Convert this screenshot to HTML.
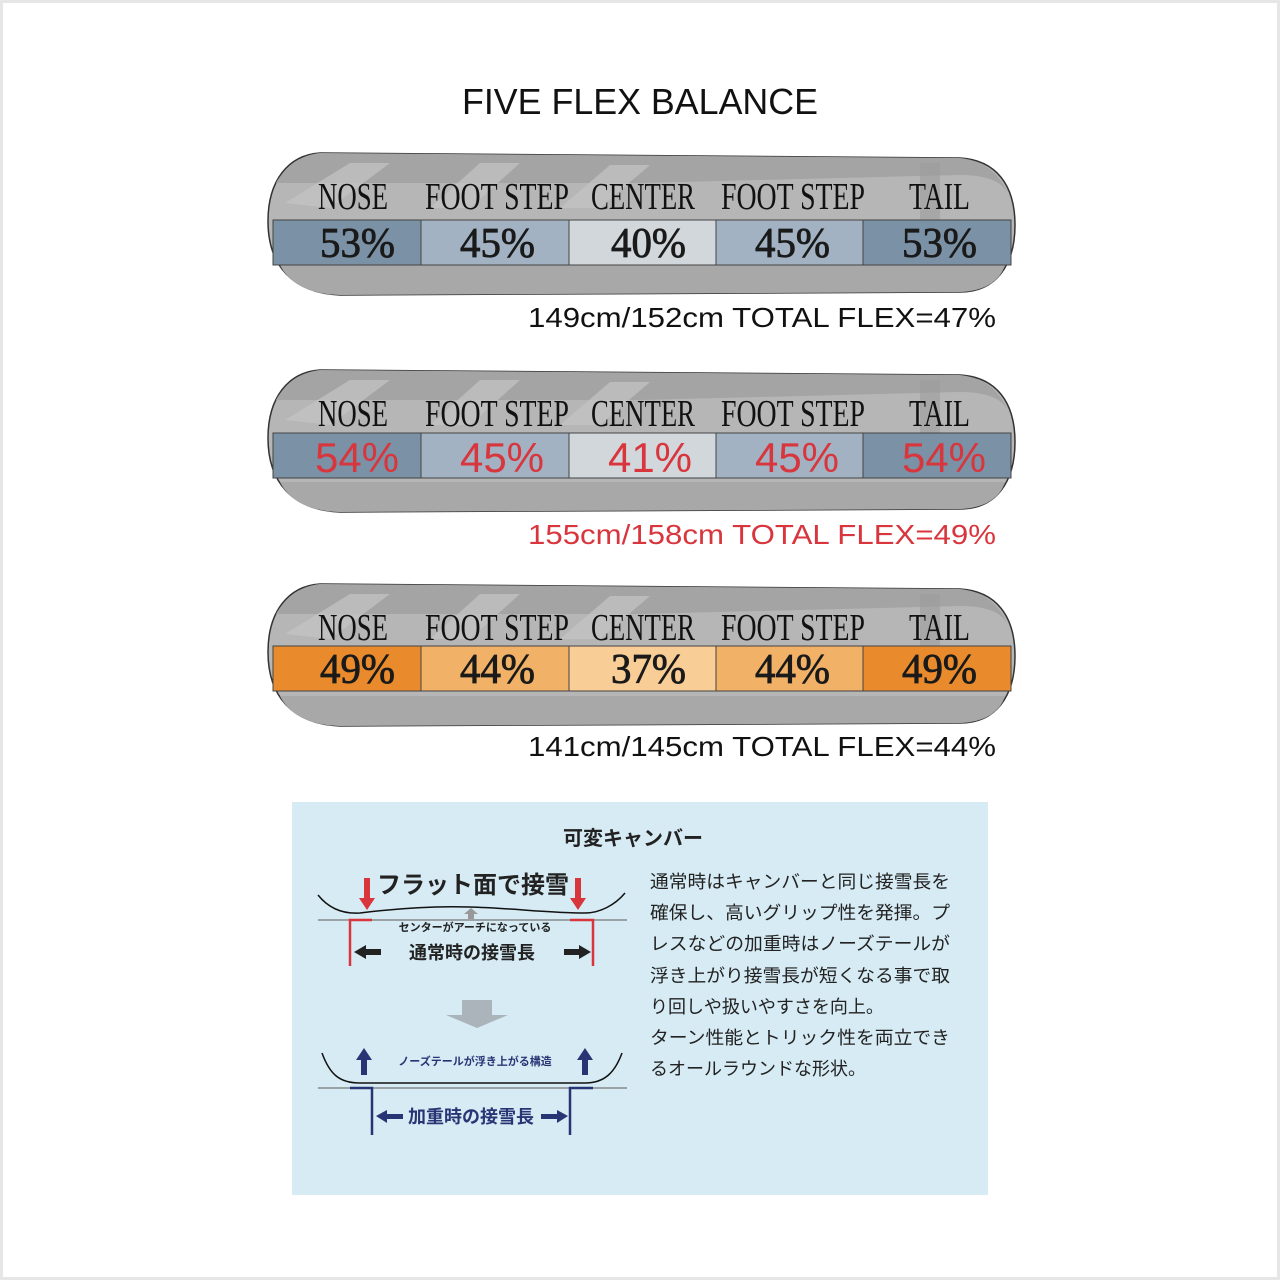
<!DOCTYPE html>
<html><head><meta charset="utf-8"><style>
html,body{margin:0;padding:0;background:#fff}
svg{display:block}
</style></head><body>
<svg width="1280" height="1280" viewBox="0 0 1280 1280" xmlns="http://www.w3.org/2000/svg">
<rect x="1.5" y="1.5" width="1277" height="1277" fill="#fff" stroke="#e6e6e6" stroke-width="3"/>
<text x="640" y="114" text-anchor="middle" font-family="Liberation Sans, sans-serif" font-size="36" fill="#111" textLength="356" lengthAdjust="spacingAndGlyphs">FIVE FLEX BALANCE</text>
<defs>
<g id="board">
<path d="M320 0 C288 2 268 28 268 68 C268 112 292 140 340 142 L960 139 C996 139 1015 112 1015 72 C1015 32 996 7 960 5 Z" fill="#b6b6b6" stroke="#333" stroke-width="1.5"/>
<path d="M320 0 C300 2 285 14 276 30 L640 30 L960 22 C990 22 1005 30 1010 45 C1000 20 985 8 960 5 Z" fill="#a4a4a4"/>
<path d="M285 50 L350 10 L390 10 L330 55 Z M430 55 L480 10 L520 10 L470 55 Z M560 55 L610 12 L650 12 L600 55 Z" fill="#c4c4c4" opacity="0.7"/>
<rect x="920" y="10" width="20" height="60" fill="#9c9c9c" opacity="0.6"/>
<path d="M280 112 L1005 112 C1000 128 985 138 960 139 L340 142 C305 141 288 128 280 112 Z" fill="#a8a8a8"/>
<g font-family="Liberation Serif, serif" font-size="38" fill="#111">
<text x="318" y="56" textLength="70" lengthAdjust="spacingAndGlyphs">NOSE</text>
<text x="425" y="56" textLength="144" lengthAdjust="spacingAndGlyphs">FOOT STEP</text>
<text x="591" y="56" textLength="104" lengthAdjust="spacingAndGlyphs">CENTER</text>
<text x="721" y="56" textLength="144" lengthAdjust="spacingAndGlyphs">FOOT STEP</text>
<text x="909" y="56" textLength="61" lengthAdjust="spacingAndGlyphs">TAIL</text>
</g>
</g>
</defs>

<!-- board 1 -->
<use href="#board" transform="translate(0,153)"/>
<g stroke="#444" stroke-width="1">
<rect x="273" y="220" width="148" height="45" fill="#7b91a5"/>
<rect x="421" y="220" width="148" height="45" fill="#a2b2c2"/>
<rect x="569" y="220" width="147" height="45" fill="#d2d7dc"/>
<rect x="716" y="220" width="147" height="45" fill="#a2b2c2"/>
<rect x="863" y="220" width="148" height="45" fill="#7b91a5"/>
</g>
<g font-family="Liberation Serif, serif" font-size="42" fill="#1a1a1a" stroke="#1a1a1a" stroke-width="0.8">
<text x="320" y="257" textLength="75" lengthAdjust="spacingAndGlyphs">53%</text><text x="460" y="257" textLength="75" lengthAdjust="spacingAndGlyphs">45%</text><text x="611" y="257" textLength="75" lengthAdjust="spacingAndGlyphs">40%</text><text x="755" y="257" textLength="75" lengthAdjust="spacingAndGlyphs">45%</text><text x="902" y="257" textLength="75" lengthAdjust="spacingAndGlyphs">53%</text>
</g>
<text x="996" y="327" text-anchor="end" font-family="Liberation Sans, sans-serif" font-size="28" fill="#111" textLength="468" lengthAdjust="spacingAndGlyphs">149cm/152cm TOTAL FLEX=47%</text>

<!-- board 2 -->
<use href="#board" transform="translate(0,370)"/>
<g stroke="#444" stroke-width="1">
<rect x="273" y="433" width="148" height="45" fill="#7b91a5"/>
<rect x="421" y="433" width="148" height="45" fill="#a2b2c2"/>
<rect x="569" y="433" width="147" height="45" fill="#d2d7dc"/>
<rect x="716" y="433" width="147" height="45" fill="#a2b2c2"/>
<rect x="863" y="433" width="148" height="45" fill="#7b91a5"/>
</g>
<g font-family="Liberation Sans, sans-serif" font-size="42" fill="#d8353d" text-anchor="middle">
<text x="357" y="472">54%</text><text x="502" y="472">45%</text><text x="650" y="472">41%</text><text x="797" y="472">45%</text><text x="944" y="472">54%</text>
</g>
<text x="996" y="544" text-anchor="end" font-family="Liberation Sans, sans-serif" font-size="28" fill="#d8353d" textLength="468" lengthAdjust="spacingAndGlyphs">155cm/158cm TOTAL FLEX=49%</text>

<!-- board 3 -->
<use href="#board" transform="translate(0,584)"/>
<g stroke="#444" stroke-width="1">
<rect x="273" y="646" width="148" height="45" fill="#e98b2d"/>
<rect x="421" y="646" width="148" height="45" fill="#f1b167"/>
<rect x="569" y="646" width="147" height="45" fill="#f8cd96"/>
<rect x="716" y="646" width="147" height="45" fill="#f1b167"/>
<rect x="863" y="646" width="148" height="45" fill="#e98b2d"/>
</g>
<g font-family="Liberation Serif, serif" font-size="42" fill="#1a1a1a" stroke="#1a1a1a" stroke-width="0.8">
<text x="320" y="683" textLength="75" lengthAdjust="spacingAndGlyphs">49%</text><text x="460" y="683" textLength="75" lengthAdjust="spacingAndGlyphs">44%</text><text x="611" y="683" textLength="75" lengthAdjust="spacingAndGlyphs">37%</text><text x="755" y="683" textLength="75" lengthAdjust="spacingAndGlyphs">44%</text><text x="902" y="683" textLength="75" lengthAdjust="spacingAndGlyphs">49%</text>
</g>
<text x="996" y="756" text-anchor="end" font-family="Liberation Sans, sans-serif" font-size="28" fill="#111" textLength="468" lengthAdjust="spacingAndGlyphs">141cm/145cm TOTAL FLEX=44%</text>

<!-- camber box -->
<rect x="292" y="802" width="696" height="393" fill="#d6ebf4"/>
<g font-family="Liberation Sans, 'Noto Sans CJK JP', sans-serif">
<text x="633" y="845" text-anchor="middle" font-size="20" font-weight="bold" fill="#222">可変キャンバー</text>
<g font-size="18" fill="#222">
<text x="650" y="888" textLength="300" lengthAdjust="spacingAndGlyphs">通常時はキャンバーと同じ接雪長を</text>
<text x="650" y="919" textLength="300" lengthAdjust="spacingAndGlyphs">確保し、高いグリップ性を発揮。プ</text>
<text x="650" y="950" textLength="300" lengthAdjust="spacingAndGlyphs">レスなどの加重時はノーズテールが</text>
<text x="650" y="982" textLength="300" lengthAdjust="spacingAndGlyphs">浮き上がり接雪長が短くなる事で取</text>
<text x="650" y="1013">り回しや扱いやすさを向上。</text>
<text x="650" y="1044" textLength="300" lengthAdjust="spacingAndGlyphs">ターン性能とトリック性を両立でき</text>
<text x="650" y="1075">るオールラウンドな形状。</text>
</g>
<text x="473" y="893" text-anchor="middle" font-size="24" font-weight="bold" fill="#222">フラット面で接雪</text>
<path d="M318 895 C330 910 345 914 360 913 C400 908 440 906 470 907 C510 908 550 913 585 913 C600 913 615 905 625 893" fill="none" stroke="#111" stroke-width="1.5"/>
<line x1="318" y1="920" x2="627" y2="920" stroke="#777" stroke-width="1.2"/>
<path d="M364 878 h6 v20 h5 l-8 12 l-8 -12 h5 Z M575 878 h6 v20 h5 l-8 12 l-8 -12 h5 Z" fill="#d8353d"/>
<path d="M468 919 v-5 h-4 l7 -6 l7 6 h-4 v5 Z" fill="#999"/>
<path d="M372 920 H350 V966 M570 920 H593 V966" fill="none" stroke="#d8353d" stroke-width="2.5"/>
<path d="M354 952 l12 -7 v4 h15 v6 h-15 v4 Z M591 952 l-12 -7 v4 h-15 v6 h15 v4 Z" fill="#222"/>
<text x="475" y="931" text-anchor="middle" font-size="11" font-weight="bold" fill="#222">センターがアーチになっている</text>
<text x="472" y="959" text-anchor="middle" font-size="18" font-weight="bold" fill="#222">通常時の接雪長</text>
<path d="M462 1000 h30 v15 h16 l-31 13 l-31 -13 h16 Z" fill="#aab4ba"/>
<path d="M322 1053 C330 1075 340 1083 360 1083 L585 1083 C605 1083 615 1072 622 1053" fill="none" stroke="#111" stroke-width="1.5"/>
<line x1="318" y1="1088" x2="627" y2="1088" stroke="#777" stroke-width="1.2"/>
<path d="M361 1075 v-15 h-5 l8 -12 l8 12 h-5 v15 Z M582 1075 v-15 h-5 l8 -12 l8 12 h-5 v15 Z" fill="#283575"/>
<path d="M350 1088 H372 V1135 M593 1088 H570 V1135" fill="none" stroke="#283575" stroke-width="2.5"/>
<path d="M376 1116 l11 -6 v4 h16 v5 h-16 v4 Z M568 1116 l-11 -6 v4 h-16 v5 h16 v4 Z" fill="#283575"/>
<text x="471" y="1123" text-anchor="middle" font-size="18" font-weight="bold" fill="#283575">加重時の接雪長</text>
<text x="475" y="1065" text-anchor="middle" font-size="11" font-weight="bold" fill="#283575">ノーズテールが浮き上がる構造</text>
</g>
</svg>
</body></html>
